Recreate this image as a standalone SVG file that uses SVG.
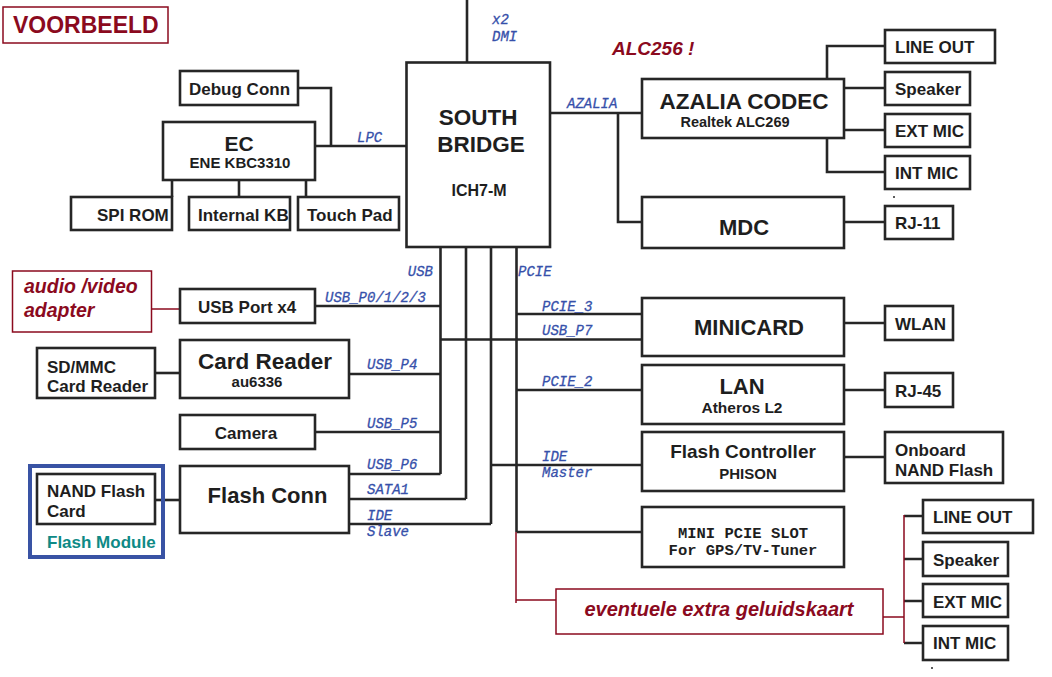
<svg xmlns="http://www.w3.org/2000/svg" width="1052" height="677" viewBox="0 0 1052 677">
<style>
.b{fill:#fff;stroke:#262626;stroke-width:2.6}
.r{fill:#fff;stroke:#8b0a1e;stroke-width:1.5}
.t{font-family:"Liberation Sans",Arial,sans-serif;font-weight:bold;fill:#1e1e1e}
.m{text-anchor:middle}
.lbl{font-family:"Liberation Mono","Courier New",monospace;font-style:italic;font-size:14px;fill:#3650aa;stroke:#3650aa;stroke-width:0.3}
.red{font-family:"Liberation Sans",Arial,sans-serif;font-weight:bold;font-style:italic;fill:#8b0a1e}
.redn{font-family:"Liberation Sans",Arial,sans-serif;font-weight:bold;fill:#8b0a1e}
.mono{font-family:"Liberation Mono","Courier New",monospace;font-weight:bold;font-size:15.5px;fill:#1e1e1e;text-anchor:middle}
#connectors path{fill:none;stroke:#262626;stroke-width:2.6}
#connectors path.rl{stroke:#8b0a1e;stroke-width:1.5}
</style>
<rect width="1052" height="677" fill="#fff"/>
<g id="connectors">
<path d="M467 0V62"/>
<path d="M298 88H331V146"/>
<path d="M315 146H406"/>
<path d="M172 180V197M239 180V197M306 180V197"/>
<path d="M550 113H642"/>
<path d="M618 113V222H642"/>
<path d="M827 79V46H885"/>
<path d="M844 88H885"/>
<path d="M844 130H885"/>
<path d="M827 138V172H885"/>
<path d="M844 222H885"/>
<path d="M440.5 247V474"/>
<path d="M466 247V499"/>
<path d="M491 247V524"/>
<path d="M516.5 247V532"/>
<path d="M315 306H440.5"/>
<path d="M440.5 339.5H642"/>
<path d="M516.5 314H642"/>
<path d="M349 374H440.5"/>
<path d="M155 373H180"/>
<path d="M516.5 390H642"/>
<path d="M315 432H440.5"/>
<path d="M349 474H440.5"/>
<path d="M349 499H466"/>
<path d="M349 524H491"/>
<path d="M491 465H642"/>
<path d="M516.5 532H642"/>
<path d="M155 500H180"/>
<path d="M844 323H885"/>
<path d="M844 390H885"/>
<path d="M844 457H885"/>
<path d="M904 516H923M904 559H923M904 601H923M904 643H923"/>
<path class="rl" d="M151.5 309H180"/>
<path class="rl" d="M516 532V603M516 600H556"/>
<path class="rl" d="M883 617H904M904 515V643"/>
</g>
<g id="voorbeeld"><rect class="r" x="3" y="7" width="165" height="36"/><text class="redn" x="13" y="33" font-size="23">VOORBEELD</text></g>
<g id="alc256"><text class="red" x="612" y="55" font-size="19">ALC256 !</text></g>
<g id="debug"><rect class="b" x="180" y="71" width="118" height="34"/><text class="t" x="189" y="95" font-size="17">Debug Conn</text></g>
<g id="ec"><rect class="b" x="163" y="122" width="152" height="58"/><text class="t m" x="239" y="151" font-size="21">EC</text><text class="t m" x="240" y="168" font-size="15">ENE KBC3310</text></g>
<g id="spirom"><rect class="b" x="71" y="197" width="101" height="33"/><text class="t" x="97" y="221" font-size="17">SPI ROM</text></g>
<g id="internalkb"><rect class="b" x="189" y="197" width="101" height="33"/><text class="t" x="198" y="221" font-size="17">Internal KB</text></g>
<g id="touchpad"><rect class="b" x="298" y="197" width="101" height="33"/><text class="t" x="307" y="221" font-size="17">Touch Pad</text></g>
<g id="southbridge"><rect class="b" x="406.5" y="62.5" width="143.5" height="184.5"/><text class="t m" x="478" y="125" font-size="22.5">SOUTH</text><text class="t m" x="481" y="152" font-size="22.5">BRIDGE</text><text class="t m" x="479" y="196" font-size="16">ICH7-M</text></g>
<g id="labels">
<text class="lbl" x="492" y="24" font-size="13">x2</text>
<text class="lbl" x="492" y="41" font-size="13">DMI</text>
<text class="lbl" x="357" y="142">LPC</text>
<text class="lbl" x="567" y="108">AZALIA</text>
<text class="lbl" x="433" y="276" text-anchor="end">USB</text>
<text class="lbl" x="518" y="276">PCIE</text>
<text class="lbl" x="325" y="302">USB_P0/1/2/3</text>
<text class="lbl" x="542" y="311">PCIE_3</text>
<text class="lbl" x="542" y="335">USB_P7</text>
<text class="lbl" x="367" y="369">USB_P4</text>
<text class="lbl" x="542" y="386">PCIE_2</text>
<text class="lbl" x="367" y="428">USB_P5</text>
<text class="lbl" x="542" y="461">IDE</text>
<text class="lbl" x="542" y="477">Master</text>
<text class="lbl" x="367" y="469">USB_P6</text>
<text class="lbl" x="367" y="494">SATA1</text>
<text class="lbl" x="367" y="520">IDE</text>
<text class="lbl" x="367" y="536">Slave</text>
</g>
<g id="codec"><rect class="b" x="642" y="79" width="202" height="59"/><text class="t m" x="744" y="109" font-size="22.5">AZALIA CODEC</text><text class="t m" x="735" y="127" font-size="14.5">Realtek ALC269</text></g>
<g id="mdc"><rect class="b" x="642" y="197" width="202" height="51"/><text class="t m" x="744" y="235" font-size="22">MDC</text></g>
<g id="lineout1"><rect class="b" x="885" y="30" width="110" height="33"/><text class="t" x="895" y="53" font-size="17">LINE OUT</text></g>
<g id="speaker1"><rect class="b" x="885" y="72" width="85" height="33"/><text class="t" x="895" y="95" font-size="17">Speaker</text></g>
<g id="extmic1"><rect class="b" x="885" y="114" width="85" height="33"/><text class="t" x="895" y="137" font-size="17">EXT MIC</text></g>
<g id="intmic1"><rect class="b" x="885" y="156" width="85" height="33"/><text class="t" x="895" y="179" font-size="17">INT MIC</text></g>
<circle cx="894" cy="197" r="1" fill="#262626"/>
<g id="rj11"><rect class="b" x="885" y="206" width="68" height="33"/><text class="t" x="895" y="229" font-size="17">RJ-11</text></g>
<g id="audiovideo"><rect class="r" x="12.5" y="271" width="139" height="61"/><text class="red" x="24" y="293" font-size="19.5">audio /video</text><text class="red" x="24" y="317" font-size="19.5">adapter</text></g>
<g id="usbport"><rect class="b" x="180" y="289" width="135" height="34"/><text class="t" x="198" y="313" font-size="17">USB Port x4</text></g>
<g id="sdmmc"><rect class="b" x="37" y="348" width="118" height="50"/><text class="t" x="47" y="373" font-size="17">SD/MMC</text><text class="t" x="47" y="392" font-size="17">Card Reader</text></g>
<g id="cardreader"><rect class="b" x="180" y="340" width="169" height="58"/><text class="t m" x="265" y="369" font-size="22.5">Card Reader</text><text class="t m" x="257" y="387" font-size="15">au6336</text></g>
<g id="camera"><rect class="b" x="180" y="415" width="135" height="34"/><text class="t m" x="246" y="439" font-size="17">Camera</text></g>
<g id="flashmodule"><rect x="30" y="466" width="133" height="91" fill="none" stroke="#3953a4" stroke-width="4"/><text x="47" y="548" font-family="Liberation Sans,Arial,sans-serif" font-weight="bold" font-size="17" fill="#0e8a86">Flash Module</text></g>
<g id="nandcard"><rect class="b" x="37" y="474" width="118" height="50"/><text class="t" x="47" y="497" font-size="17">NAND Flash</text><text class="t" x="47" y="517" font-size="17">Card</text></g>
<g id="flashconn"><rect class="b" x="180" y="466" width="169" height="67"/><text class="t m" x="267.5" y="503" font-size="22">Flash Conn</text></g>
<g id="minicard"><rect class="b" x="642" y="298" width="202" height="58"/><text class="t m" x="749" y="335" font-size="22">MINICARD</text></g>
<g id="wlan"><rect class="b" x="885" y="306" width="68" height="34"/><text class="t" x="895" y="330" font-size="17">WLAN</text></g>
<g id="lan"><rect class="b" x="642" y="365" width="202" height="59"/><text class="t m" x="742" y="394" font-size="22">LAN</text><text class="t m" x="742" y="413" font-size="15.5">Atheros L2</text></g>
<g id="rj45"><rect class="b" x="885" y="373" width="68" height="34"/><text class="t" x="895" y="397" font-size="17">RJ-45</text></g>
<g id="flashctl"><rect class="b" x="642" y="432" width="202" height="59"/><text class="t m" x="743" y="458" font-size="19">Flash Controller</text><text class="t m" x="748" y="479" font-size="15">PHISON</text></g>
<g id="onboard"><rect class="b" x="885" y="432" width="118" height="51"/><text class="t" x="895" y="456" font-size="17">Onboard</text><text class="t" x="895" y="476" font-size="17">NAND Flash</text></g>
<g id="minipcie"><rect class="b" x="642" y="507" width="202" height="60"/><text class="mono" x="743" y="538">MINI PCIE SLOT</text><text class="mono" x="743" y="555">For GPS/TV-Tuner</text></g>
<g id="eventuele"><rect class="r" x="556" y="589" width="327" height="45"/><text class="red m" x="719" y="616" font-size="20">eventuele extra geluidskaart</text></g>
<g id="lineout2"><rect class="b" x="923" y="500" width="110" height="33"/><text class="t" x="933" y="523" font-size="17">LINE OUT</text></g>
<g id="speaker2"><rect class="b" x="923" y="542" width="85" height="34"/><text class="t" x="933" y="566" font-size="17">Speaker</text></g>
<g id="extmic2"><rect class="b" x="923" y="584" width="85" height="33"/><text class="t" x="933" y="608" font-size="17">EXT MIC</text></g>
<g id="intmic2"><rect class="b" x="923" y="626" width="85" height="34"/><text class="t" x="933" y="649" font-size="17">INT MIC</text></g>
<circle cx="932" cy="668" r="1" fill="#262626"/>
</svg>
